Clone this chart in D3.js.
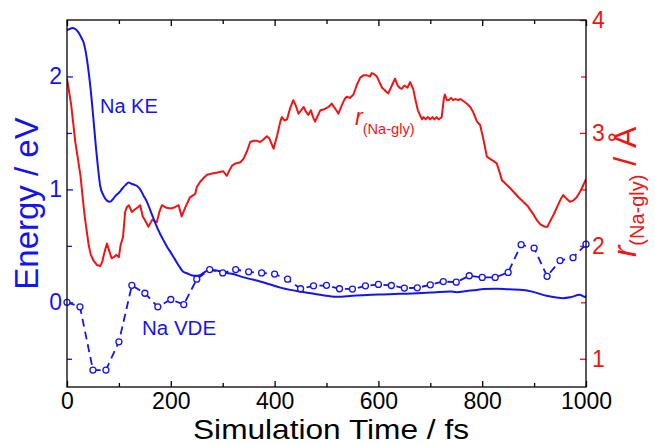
<!DOCTYPE html>
<html><head><meta charset="utf-8">
<script src="https://cdn.jsdelivr.net/npm/d3@7"></script>
<style>body{margin:0;background:#fff}svg{display:block}</style>
</head><body><svg id="c" width="655" height="444"></svg>
<script>
// ---- data ----
const keTime = [0,5,10,16,22,27,32,36,40,45,51,56,60,64,70,77,83,88,93,100,107,113,119,124,130,135,141,148,154,160,166,173,180,187,193,200,208,216,224,232,240,248,256,263,270,276,283,290,300,308,320,334,350,372,390,411,430,449,470,488,505,520,550,578,610,642,675,706,738,751,770,790,802,828,850,879,900,924,940,956,970,988,994,998,1000];
const keVal  = [2.41,2.42,2.43,2.42,2.39,2.35,2.30,2.22,2.10,1.91,1.62,1.36,1.18,1.03,0.95,0.90,0.89,0.91,0.94,0.97,1.01,1.04,1.06,1.05,1.04,1.03,1.00,0.94,0.89,0.82,0.75,0.67,0.60,0.54,0.49,0.44,0.38,0.32,0.27,0.255,0.24,0.235,0.24,0.26,0.28,0.29,0.285,0.28,0.27,0.26,0.25,0.23,0.21,0.185,0.16,0.13,0.11,0.095,0.08,0.066,0.055,0.05,0.058,0.065,0.07,0.075,0.08,0.087,0.095,0.09,0.10,0.11,0.117,0.12,0.115,0.11,0.09,0.058,0.045,0.037,0.045,0.066,0.055,0.046,0.06];

const vdeTime = [0,25,50,75,100,125,150,175,200,225,250,275,300,325,350,375,400,425,450,475,500,525,550,575,600,625,650,675,700,725,750,775,800,825,850,875,900,925,950,975,1000];
const vdeVal  = [0.0,-0.04,-0.60,-0.60,-0.35,0.15,0.08,-0.04,0.025,-0.02,0.205,0.29,0.26,0.29,0.27,0.26,0.25,0.205,0.12,0.146,0.15,0.12,0.117,0.146,0.158,0.149,0.126,0.128,0.155,0.184,0.178,0.235,0.22,0.22,0.265,0.51,0.48,0.23,0.37,0.395,0.515];

const rTime = [0,8,16,26,32,35,42,46,51,58,64,68,72,77,81,86,90,95,100,103,108,112,115,119,125,130,136,141,146,151,157,164,173,178,183,190,199,207,215,221,228,237,247,250,257,263,270,280,290,301,308,313,318,325,334,340,347,353,360,366,372,378,385,390,398,405,411,414,419,424,430,436,441,446,451,456,460,465,470,474,478,483,488,496,504,510,516,523,530,535,539,545,552,558,565,571,578,584,587,592,597,602,607,612,616,619,624,628,632,637,641,645,650,656,661,664,667,672,676,680,684,687,691,695,700,704,708,712,716,719,722,726,728,732,735,740,744,748,754,758,764,770,777,783,790,796,802,809,815,822,828,833,838,845,854,862,870,879,888,897,905,912,920,926,930,938,946,952,956,962,969,975,982,990,998,1000];
const rVal  = [3.48,3.25,2.92,2.62,2.35,2.23,2.0,1.92,1.87,1.83,1.82,1.86,1.94,2.02,1.96,1.89,1.90,1.92,1.90,2.0,2.08,2.30,2.34,2.36,2.30,2.32,2.34,2.36,2.26,2.22,2.17,2.23,2.21,2.30,2.36,2.34,2.33,2.34,2.36,2.26,2.34,2.43,2.46,2.52,2.57,2.60,2.63,2.64,2.65,2.66,2.62,2.67,2.71,2.73,2.74,2.77,2.84,2.92,2.93,2.93,2.92,2.94,2.97,2.95,2.86,2.98,3.10,3.14,3.11,3.12,3.22,3.29,3.24,3.17,3.20,3.23,3.19,3.16,3.20,3.14,3.10,3.15,3.20,3.21,3.23,3.26,3.22,3.17,3.25,3.30,3.32,3.31,3.34,3.42,3.49,3.51,3.51,3.50,3.53,3.52,3.50,3.45,3.40,3.38,3.36,3.35,3.40,3.44,3.48,3.42,3.40,3.39,3.42,3.40,3.45,3.42,3.39,3.28,3.20,3.16,3.12,3.14,3.12,3.14,3.12,3.14,3.12,3.14,3.12,3.13,3.14,3.30,3.34,3.29,3.29,3.31,3.29,3.30,3.29,3.30,3.28,3.26,3.23,3.18,3.10,3.07,2.95,2.79,2.77,2.75,2.73,2.66,2.58,2.55,2.51,2.47,2.43,2.39,2.35,2.29,2.23,2.19,2.17,2.17,2.21,2.28,2.36,2.42,2.45,2.42,2.39,2.40,2.43,2.49,2.57,2.59];

const xMajor = [0,200,400,600,800,1000];
const xMinor = [100,300,500,700,900];
const leftMajor = [0,1,2];
const leftMinor = [-0.5,0.5,1.5];
const rightMajor = [1,2,3,4];
const rightMinor = [1.5,2.5,3.5];

// ---- layout ----
const L = 67, R = 586, T = 20, B = 387;
const BLUE = "#1414f0", RED = "#f01414";
const FONT = "'Liberation Sans', Arial, Helvetica, sans-serif";

const svg = d3.select("#c");
svg.append("rect").attr("width",655).attr("height",444).attr("fill","#fff");

const x = d3.scaleLinear().domain([0,1000]).range([L,R]);
const yL = d3.scaleLinear().domain([-0.75,2.5]).range([B,T]);
const yR = d3.scaleLinear().domain([0.75,4]).range([B,T]);

// axes
function styleAxis(g, color, fs){
  g.select(".domain").remove();
  g.selectAll("line").attr("stroke", color).attr("stroke-width",1.3);
  g.selectAll("text").attr("fill", color).attr("font-size", fs).attr("font-family", FONT);
}
const ax = svg.append("g").attr("transform",`translate(0,${B})`)
  .call(d3.axisBottom(x).tickValues(xMajor).tickSize(-6).tickPadding(6).tickFormat(d3.format("d")));
styleAxis(ax, "#000", 23);
const axm = svg.append("g").attr("transform",`translate(0,${B})`)
  .call(d3.axisBottom(x).tickValues(xMinor).tickSize(-4).tickFormat(""));
styleAxis(axm, "#000", 0);
const at = svg.append("g").attr("transform",`translate(0,${T})`)
  .call(d3.axisTop(x).tickValues(xMajor).tickSize(-6).tickFormat(""));
styleAxis(at, "#000", 0);
const atm = svg.append("g").attr("transform",`translate(0,${T})`)
  .call(d3.axisTop(x).tickValues(xMinor).tickSize(-4).tickFormat(""));
styleAxis(atm, "#000", 0);

const al = svg.append("g").attr("transform",`translate(${L},0)`)
  .call(d3.axisLeft(yL).tickValues(leftMajor).tickSize(-6).tickPadding(5).tickFormat(d3.format("d")));
styleAxis(al, BLUE, 23);
const alm = svg.append("g").attr("transform",`translate(${L},0)`)
  .call(d3.axisLeft(yL).tickValues(leftMinor).tickSize(-5).tickFormat(""));
styleAxis(alm, BLUE, 0);

const ar = svg.append("g").attr("transform",`translate(${R},0)`)
  .call(d3.axisRight(yR).tickValues(rightMajor).tickSize(-6).tickPadding(6).tickFormat(d3.format("d")));
styleAxis(ar, RED, 23);
const arm = svg.append("g").attr("transform",`translate(${R},0)`)
  .call(d3.axisRight(yR).tickValues(rightMinor).tickSize(-5).tickFormat(""));
styleAxis(arm, RED, 0);

// curves
const clip = svg.append("clipPath").attr("id","pc").append("rect")
  .attr("x",L).attr("y",T).attr("width",R-L).attr("height",B-T);
const plot = svg.append("g").attr("clip-path","url(#pc)");

const lineR = d3.line().x((d,i)=>x(rTime[i])).y(d=>yR(d));
plot.append("path").datum(rVal).attr("d",lineR).attr("fill","none")
  .attr("stroke",RED).attr("stroke-width",2).attr("stroke-linejoin","round");

const lineKE = d3.line().x((d,i)=>x(keTime[i])).y(d=>yL(d)).curve(d3.curveMonotoneX);
plot.append("path").datum(keVal).attr("d",lineKE).attr("fill","none")
  .attr("stroke",BLUE).attr("stroke-width",2).attr("stroke-linejoin","round");

const lineV = d3.line().x((d,i)=>x(vdeTime[i])).y(d=>yL(d));
svg.append("path").datum(vdeVal).attr("d",lineV).attr("fill","none")
  .attr("stroke",BLUE).attr("stroke-width",1.8).attr("stroke-dasharray","8,5");
svg.selectAll("circle.v").data(vdeVal).join("circle").attr("class","v")
  .attr("cx",(d,i)=>x(vdeTime[i])).attr("cy",d=>yL(d)).attr("r",3)
  .attr("fill","#fff").attr("stroke",BLUE).attr("stroke-width",1.3);

// frame
svg.append("rect").attr("x",L).attr("y",T).attr("width",R-L).attr("height",B-T)
  .attr("fill","none").attr("stroke","#000").attr("stroke-width",1.3);

// labels
svg.append("text").attr("x",100).attr("y",113).attr("fill",BLUE).attr("font-size",20)
  .attr("font-family",FONT).text("Na KE");
svg.append("text").attr("x",142).attr("y",335).attr("fill",BLUE).attr("font-size",20.5)
  .attr("font-family",FONT).text("Na VDE");
const rl = svg.append("text").attr("x",355).attr("y",125).attr("fill",RED).attr("font-family",FONT);
rl.append("tspan").attr("font-size",23).attr("font-style","italic").text("r");
rl.append("tspan").attr("font-size",14.6).attr("dy",9).text("(Na-gly)");

svg.append("text").attr("x",331).attr("y",438.5).attr("text-anchor","middle")
  .attr("font-size",27.5).attr("textLength",276).attr("lengthAdjust","spacingAndGlyphs")
  .attr("font-family",FONT).attr("fill","#000").text("Simulation Time / fs");
svg.append("text").attr("transform","translate(37.5,203.5) rotate(-90)").attr("text-anchor","middle")
  .attr("font-size",33).attr("font-family",FONT).attr("fill",BLUE).text("Energy / eV");
const rt = svg.append("text").attr("transform","translate(636,257) rotate(-90)")
  .attr("font-family",FONT).attr("fill",RED);
rt.append("tspan").attr("font-size",34).attr("font-style","italic").text("r");
rt.append("tspan").attr("font-size",20).attr("dy",8).text("(Na-gly)");
rt.append("tspan").attr("font-size",32).attr("dy",-8).text(" / Å");
</script></body></html>
